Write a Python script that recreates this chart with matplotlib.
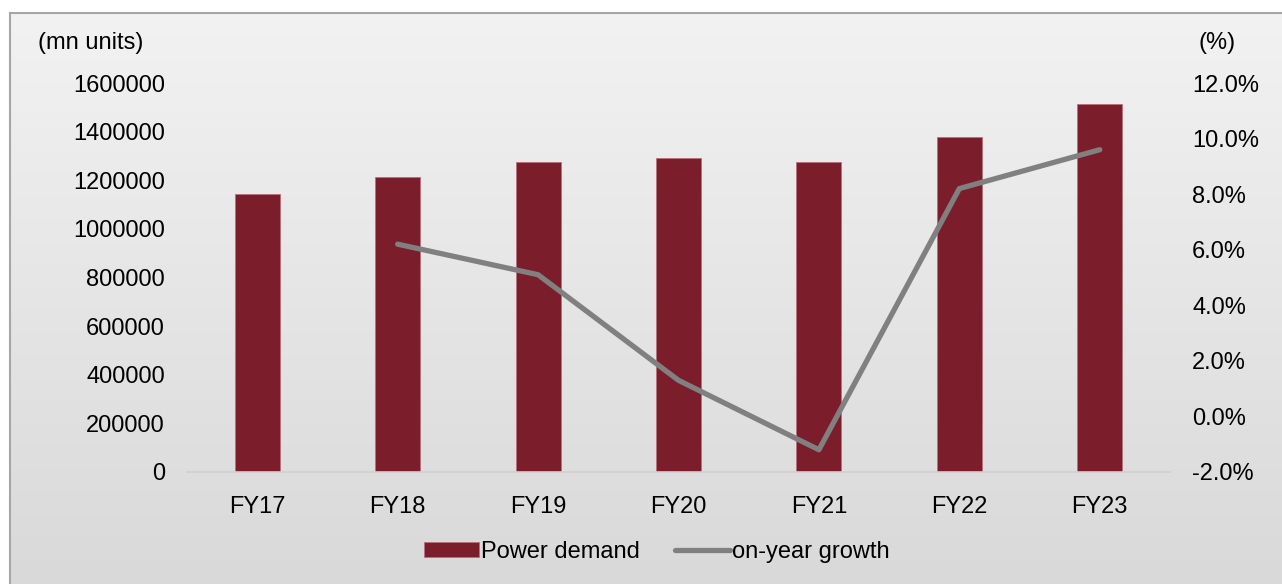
import matplotlib.pyplot as plt
import numpy as np
from matplotlib.ticker import FuncFormatter

plt.rcParams['font.family'] = ['Liberation Sans', 'DejaVu Sans']

# data
years = ["FY17", "FY18", "FY19", "FY20", "FY21", "FY22", "FY23"]
demand = [1142929, 1213326, 1274595, 1291010, 1275534, 1379812, 1511847]
growth_years = ["FY18", "FY19", "FY20", "FY21", "FY22", "FY23"]
growth = [6.2, 5.1, 1.3, -1.2, 8.2, 9.6]

bar_color = "#7B1D2A"
line_color = "#808080"

fig = plt.figure(figsize=(12.82, 5.84), dpi=100)

# gradient panel behind the chart
bg = fig.add_axes([10 / 1282, 0, 1 - 10 / 1282, 1 - 13 / 584])
grad = np.linspace(0, 1, 256).reshape(-1, 1)
bg.imshow(grad, aspect="auto", cmap=plt.matplotlib.colors.LinearSegmentedColormap.from_list(
    "g", ["#F2F2F2", "#D9D9D9"]), extent=[0, 1, 1, 0])
bg.set_xlim(0, 1)
bg.set_ylim(1, 0)
bg.set_xticks([])
bg.set_yticks([])
for side in ["right", "bottom"]:
    bg.spines[side].set_visible(False)
for side in ["top", "left"]:
    bg.spines[side].set_color("#A6A6A6")
    bg.spines[side].set_linewidth(1.5)

ax = fig.add_axes([187 / 1282, 1 - 472 / 584, (1170 - 187) / 1282, (472 - 83) / 584])
ax.patch.set_visible(False)
x = np.arange(len(years))
bars = ax.bar(x, demand, width=0.32, color=bar_color, edgecolor="#B8707A",
              linewidth=0.6, label="Power demand", zorder=2)
ax.set_xlim(-0.5, len(years) - 0.5)
ax.set_ylim(0, 1600000)
ax.set_yticks(np.arange(0, 1600001, 200000))
ax.yaxis.set_major_formatter(FuncFormatter(lambda v, p: f"{int(v)}"))
ax.set_xticks(x)
ax.set_xticklabels(years)
ax.tick_params(axis="both", length=0, labelsize=17, colors="black")
ax.tick_params(axis="y", pad=16)
ax.tick_params(axis="x", pad=17)
for side in ["top", "left", "right"]:
    ax.spines[side].set_visible(False)
ax.spines["bottom"].set_color("#D0D0D0")
ax.spines["bottom"].set_linewidth(1.2)

ax2 = ax.twinx()
gx = [years.index(y) for y in growth_years]
line, = ax2.plot(gx, growth, color=line_color, linewidth=3.8,
                 solid_capstyle="round", solid_joinstyle="round",
                 label="on-year growth", zorder=3)
ax2.set_ylim(-2, 12)
ax2.set_yticks(np.arange(-2, 12.1, 2))
ax2.yaxis.set_major_formatter(FuncFormatter(lambda v, p: f"{v:.1f}%"))
ax2.tick_params(axis="y", length=0, labelsize=17, pad=16)
for side in ["top", "left", "right", "bottom"]:
    ax2.spines[side].set_visible(False)

fig.text(38 / 1282, 1 - 43 / 584, "(mn units)", fontsize=17, va="center", ha="left")
fig.text(1198 / 1282, 1 - 43 / 584, "(%)", fontsize=17, va="center", ha="left")

fig.legend([bars, line], ["Power demand", "on-year growth"], loc="center",
           bbox_to_anchor=(657 / 1282, 1 - 552 / 584), ncol=2, frameon=False,
           fontsize=17, handlelength=2.3, handleheight=0.6, handletextpad=0.1,
           columnspacing=1.5)

fig.savefig("out.png", dpi=100)
